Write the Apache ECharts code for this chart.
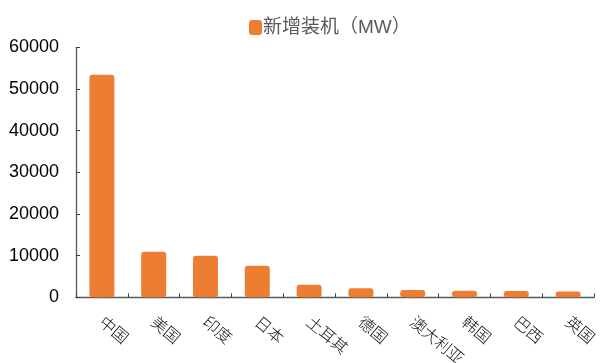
<!DOCTYPE html>
<html>
<head>
<meta charset="utf-8">
<script src="https://cdn.jsdelivr.net/npm/echarts@6/dist/echarts.min.js"></script>
<style>
html,body{margin:0;padding:0;background:#fff;}
#c{width:603px;height:363px;}
</style>
</head>
<body>
<div id="c"></div>
<script>
const categories = ['中国','美国','印度','日本','土耳其','德国','澳大利亚','韩国','巴西','英国'];
const newCapacity = [53400, 10950, 10000, 7600, 3000, 2200, 1750, 1550, 1500, 1400];
const seriesName = '新增装机（MW）';
const yTicks = [0, 10000, 20000, 30000, 40000, 50000, 60000];

const chart = echarts.init(document.getElementById('c'), null, {renderer:'canvas'});
chart.setOption({
  animation: false,
  backgroundColor: '#fff',
  legend: {
    data: [seriesName],
    left: 244,
    top: 13,
    itemWidth: 13,
    itemHeight: 15,
    itemGap: 0,
    icon: 'roundRect',
    textStyle: {fontSize: 19, color: '#595959', fontFamily: 'Liberation Sans, Noto Sans CJK SC', padding: [0,0,0,-4]}
  },
  grid: {left: 76, right: 9, top: 47.3, bottom: 65.7, containLabel: false, outerBoundsMode: 'none'},
  xAxis: {
    type: 'category',
    data: categories,
    axisLine: {lineStyle: {color: '#595959', width: 1.3}},
    axisTick: {show: true, inside: true, length: 4, alignWithLabel: false, lineStyle: {color: '#404040'}},
    axisLabel: {
      rotate: -40,
      margin: 22,
      fontSize: 16,
      color: '#111',
      fontFamily: 'Noto Sans CJK SC',
      fontWeight: 300,
      interval: 0,
      hideOverlap: false
    }
  },
  yAxis: {
    type: 'value',
    min: yTicks[0],
    max: yTicks[yTicks.length-1],
    interval: 10000,
    splitLine: {show: false},
    axisLine: {show: true, lineStyle: {color: '#595959', width: 1.3}},
    axisTick: {show: true, inside: true, length: 4, lineStyle: {color: '#404040'}},
    axisLabel: {fontSize: 18, color: '#000', fontFamily: 'Liberation Sans', margin: 17,
      formatter: function (v) { return String(v); }}
  },
  series: [{
    name: seriesName,
    type: 'bar',
    data: newCapacity,
    barWidth: 25,
    itemStyle: {color: '#ED7D31', borderRadius: 3}
  }]
});
</script>
</body>
</html>
